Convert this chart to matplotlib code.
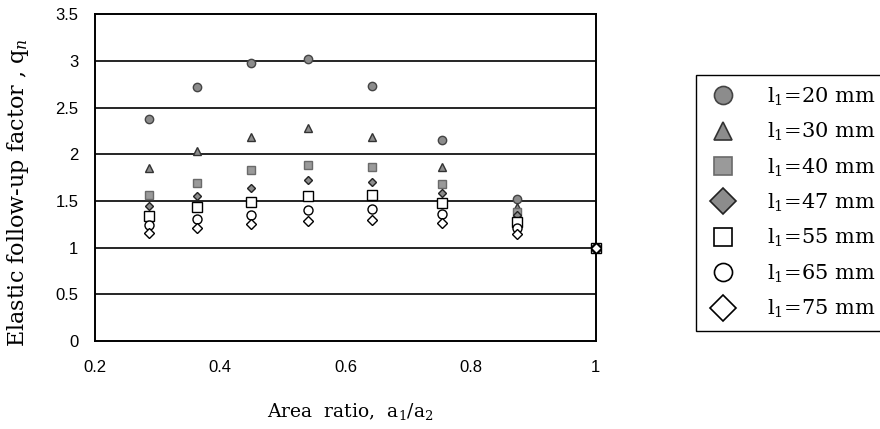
import numpy as np
import matplotlib
matplotlib.use('Agg')
import matplotlib.pyplot as plt
from matplotlib.lines import Line2D

plt.rcParams['mathtext.fontset'] = 'dejavuserif'

# area ratio a1/a2 for each specimen column
area_ratio = [0.286, 0.363, 0.449, 0.540, 0.643, 0.754, 0.874, 1.0]

# elastic follow-up factor qn for each l1
q_20 = [2.38, 2.72, 2.98, 3.02, 2.73, 2.15, 1.52, 1.0]
q_30 = [1.85, 2.04, 2.19, 2.28, 2.18, 1.86, 1.44, 1.0]
q_40 = [1.56, 1.69, 1.83, 1.89, 1.86, 1.68, 1.38, 1.0]
q_47 = [1.45, 1.55, 1.64, 1.72, 1.70, 1.58, 1.35, 1.0]
q_55 = [1.34, 1.43, 1.49, 1.55, 1.56, 1.48, 1.28, 1.0]
q_65 = [1.24, 1.31, 1.35, 1.40, 1.41, 1.36, 1.21, 1.0]
q_75 = [1.16, 1.21, 1.25, 1.29, 1.30, 1.26, 1.15, 1.0]

labels = ['20', '30', '40', '47', '55', '65', '75']
x_ticks = [0.2, 0.4, 0.6, 0.8, 1.0]
x_ticklabels = ['0.2', '0.4', '0.6', '0.8', '1']
y_ticks = [0, 0.5, 1, 1.5, 2, 2.5, 3, 3.5]
y_ticklabels = ['0', '0.5', '1', '1.5', '2', '2.5', '3', '3.5']

series = [q_20, q_30, q_40, q_47, q_55, q_65, q_75]
# (marker, face, edge, plot size)
styles = [
    ('o', '#8c8c8c', '#444444', 6),
    ('^', '#8c8c8c', '#333333', 6),
    ('s', '#9a9a9a', '#6a6a6a', 5.5),
    ('D', '#8c8c8c', '#222222', 4.5),
    ('s', 'white', 'black', 6.5),
    ('o', 'white', 'black', 6.5),
    ('D', 'white', 'black', 5.5),
]

fig = plt.figure(figsize=(8.8, 4.29), dpi=100)
ax = fig.add_axes([0.108, 0.205, 0.569, 0.762])

for q, (m, fc, ec, ms) in zip(series, styles):
    ax.plot(area_ratio, q, linestyle='none', marker=m, markersize=ms,
            markerfacecolor=fc, markeredgecolor=ec, markeredgewidth=1.0,
            clip_on=False, zorder=3)

ax.set_xlim(0.2, 1.0)
ax.set_ylim(0, 3.5)
ax.set_xticks(x_ticks)
ax.set_xticklabels(x_ticklabels)
ax.set_yticks(y_ticks)
ax.set_yticklabels(y_ticklabels)
for t in ax.get_xticklabels() + ax.get_yticklabels():
    t.set_family('Liberation Sans')
    t.set_fontsize(12)
ax.tick_params(axis='both', length=0)
ax.tick_params(axis='y', pad=12)
ax.tick_params(axis='x', pad=14)

for yv in y_ticks[1:-1]:
    ax.axhline(yv, color='black', linewidth=1.2, zorder=1)
for s in ax.spines.values():
    s.set_linewidth(1.4)
    s.set_color('black')

ax.set_ylabel('Elastic follow-up factor , q$_n$', family='DejaVu Serif',
              fontsize=16)
ax.yaxis.set_label_coords(-0.128, 0.455)
ax.set_xlabel('Area  ratio,  a$_1$/a$_2$', family='DejaVu Serif',
              fontsize=13.5)
ax.xaxis.set_label_coords(0.51, -0.217)
ax.xaxis.label.set_va('center')

handles = [Line2D([], [], linestyle='none', marker=m, markersize=13,
                  markerfacecolor=fc, markeredgecolor=ec, markeredgewidth=1.2)
           for (m, fc, ec, ms) in styles]
leg_labels = ['l$_1$=%s mm' % l for l in labels]
leg = fig.legend(handles, leg_labels, loc='upper left',
                 bbox_to_anchor=(0.791, 0.825), borderaxespad=0,
                 prop={'family': 'DejaVu Serif', 'size': 15},
                 fancybox=False, edgecolor='black', framealpha=1,
                 borderpad=0.5, handlelength=1.6, handletextpad=1.3,
                 labelspacing=0.63)
leg.get_frame().set_linewidth(1.0)

fig.savefig('out.png', dpi=100)
